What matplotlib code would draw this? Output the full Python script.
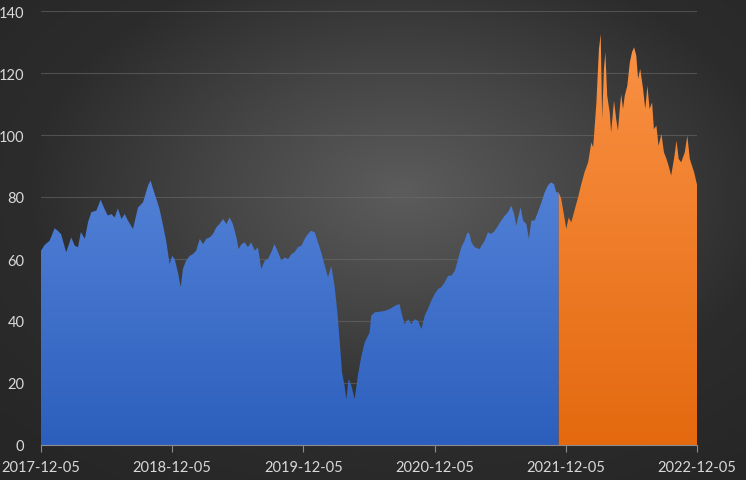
import numpy as np
import pandas as pd
import matplotlib
matplotlib.use("Agg")
import matplotlib.pyplot as plt
import matplotlib.dates as mdates
from matplotlib.colors import LinearSegmentedColormap

# price series (date, value)
dates = [
    "2017-12-05", "2017-12-15", "2017-12-29", "2018-01-12", "2018-01-21", "2018-01-30",
    "2018-02-13", "2018-02-23", "2018-02-27", "2018-03-09", "2018-03-18", "2018-03-26",
    "2018-04-06", "2018-04-15", "2018-04-24", "2018-05-08", "2018-05-20", "2018-05-31",
    "2018-06-09", "2018-06-19", "2018-06-28", "2018-07-07", "2018-07-17", "2018-07-26",
    "2018-08-04", "2018-08-18", "2018-09-01", "2018-09-15", "2018-09-29", "2018-10-06",
    "2018-10-13", "2018-10-22", "2018-10-31", "2018-11-10", "2018-11-19", "2018-11-28",
    "2018-12-05", "2018-12-12", "2018-12-21", "2018-12-29", "2019-01-04", "2019-01-13",
    "2019-01-23", "2019-02-01", "2019-02-10", "2019-02-20", "2019-03-01", "2019-03-10",
    "2019-03-20", "2019-03-29", "2019-04-07", "2019-04-16", "2019-04-26", "2019-05-05",
    "2019-05-14", "2019-05-23", "2019-06-02", "2019-06-08", "2019-06-16", "2019-06-25",
    "2019-07-04", "2019-07-13", "2019-07-23", "2019-08-01", "2019-08-10", "2019-08-20",
    "2019-08-29", "2019-09-07", "2019-09-16", "2019-09-26", "2019-10-05", "2019-10-14",
    "2019-10-24", "2019-11-02", "2019-11-11", "2019-11-20", "2019-11-30", "2019-12-09",
    "2019-12-18", "2019-12-27", "2020-01-06", "2020-01-15", "2020-01-24", "2020-02-03",
    "2020-02-12", "2020-02-21", "2020-03-01", "2020-03-09", "2020-03-15", "2020-03-22",
    "2020-03-29", "2020-04-03", "2020-04-09", "2020-04-17", "2020-04-26", "2020-05-05",
    "2020-05-15", "2020-05-24", "2020-06-07", "2020-06-11", "2020-06-21", "2020-07-05",
    "2020-07-19", "2020-08-02", "2020-08-16", "2020-08-29", "2020-09-03", "2020-09-12",
    "2020-09-22", "2020-10-01", "2020-10-10", "2020-10-19", "2020-10-29", "2020-11-07",
    "2020-11-16", "2020-11-25", "2020-12-05", "2020-12-14", "2020-12-23", "2021-01-02",
    "2021-01-11", "2021-01-20", "2021-01-30", "2021-02-08", "2021-02-17", "2021-02-26",
    "2021-03-06", "2021-03-12", "2021-03-17", "2021-03-26", "2021-04-09", "2021-04-14",
    "2021-04-23", "2021-05-02", "2021-05-11", "2021-05-21", "2021-05-30", "2021-06-08",
    "2021-06-18", "2021-06-27", "2021-07-06", "2021-07-14", "2021-07-20", "2021-07-25",
    "2021-08-01", "2021-08-08", "2021-08-17", "2021-08-24", "2021-08-31", "2021-09-09",
    "2021-09-18", "2021-09-28", "2021-10-07", "2021-10-16", "2021-10-24", "2021-11-02",
    "2021-11-08", "2021-11-15",
    "2021-11-22", "2021-11-30", "2021-12-06", "2021-12-13", "2021-12-20", "2021-12-30",
    "2022-01-08", "2022-01-17", "2022-01-26", "2022-02-05", "2022-02-14", "2022-02-19",
    "2022-02-28", "2022-03-07", "2022-03-12", "2022-03-16", "2022-03-21", "2022-03-25",
    "2022-03-30", "2022-04-06", "2022-04-10", "2022-04-18", "2022-04-24", "2022-04-29",
    "2022-05-04", "2022-05-08", "2022-05-13", "2022-05-18", "2022-05-25", "2022-06-01",
    "2022-06-07", "2022-06-13", "2022-06-19", "2022-06-24", "2022-06-30", "2022-07-08",
    "2022-07-14", "2022-07-20", "2022-07-26", "2022-08-02", "2022-08-07", "2022-08-14",
    "2022-08-20", "2022-08-28", "2022-09-04", "2022-09-11", "2022-09-17", "2022-09-24",
    "2022-10-02", "2022-10-09", "2022-10-15", "2022-10-22", "2022-11-01", "2022-11-08",
    "2022-11-15", "2022-11-21", "2022-11-27", "2022-12-05",
]
values = [
    62.7, 64.5, 65.9, 69.9, 69.1, 68.0,
    62.2, 65.5, 67.0, 64.3, 63.8, 68.7,
    66.5, 71.9, 75.1, 75.6, 79.1, 76.1,
    74.0, 74.5, 73.4, 76.3, 72.9, 74.5,
    72.4, 69.7, 76.6, 78.3, 83.7, 85.3,
    82.6, 79.4, 76.1, 70.7, 65.5, 58.4,
    61.0, 60.0, 55.8, 50.9, 56.8, 59.5,
    61.0, 61.6, 62.7, 66.5, 64.8, 66.5,
    67.0, 68.1, 70.2, 71.3, 72.9, 71.3,
    73.4, 71.3, 67.0, 63.2, 64.8, 65.4,
    63.8, 65.4, 62.7, 63.8, 56.8, 59.5,
    60.0, 62.2, 64.8, 62.2, 59.5, 60.5,
    60.0, 61.6, 62.2, 63.8, 64.3, 66.5,
    68.1, 69.1, 68.6, 65.4, 62.2, 57.8,
    54.1, 57.8, 51.4, 42.8, 34.2, 23.4,
    19.1, 14.8, 21.3, 19.1, 14.8, 22.4,
    28.8, 33.1, 36.4, 41.7, 42.8, 43.0,
    43.3, 43.9, 44.9, 45.5, 42.8, 39.0,
    40.6, 39.0, 40.6, 40.1, 37.4, 41.7,
    43.9, 46.5, 48.7, 50.3, 50.9, 52.5,
    54.6, 54.6, 56.2, 60.0, 63.8, 65.9,
    68.6, 68.1, 65.4, 63.8, 63.2, 64.3,
    65.9, 68.6, 68.1, 69.1, 70.7, 72.4,
    74.0, 75.1, 77.2, 74.5, 70.7, 73.4,
    76.6, 72.4, 71.3, 66.5, 72.4, 72.4,
    75.1, 78.3, 81.5, 83.7, 84.7, 84.2,
    81.5, 81.5,
    79.4, 74.0, 69.7, 73.4, 71.8, 76.1,
    79.9, 84.2, 88.0, 91.2, 97.6, 96.0,
    110.5, 127.7, 132.6, 105.2, 121.3, 126.7,
    112.7, 107.3, 100.8, 111.1, 105.2, 101.4,
    108.4, 113.2, 108.4, 112.7, 115.9, 123.4,
    126.7, 128.3, 125.6, 118.1, 121.3, 114.8,
    108.4, 115.9, 108.4, 110.5, 101.9, 103.0,
    96.5, 100.3, 94.4, 92.3, 90.1, 86.9,
    92.3, 98.2, 92.3, 91.2, 94.4, 99.8,
    92.3, 90.1, 88.0, 84.0,
]
split_date = "2021-11-15"
tick_dates = ["2017-12-05", "2018-12-05", "2019-12-05", "2020-12-05", "2021-12-05", "2022-12-05"]
y_ticks = [0, 20, 40, 60, 80, 100, 120, 140]

x = pd.to_datetime(dates)
y = np.array(values)
split = pd.Timestamp(split_date)
hist = x <= split
recent = x >= split

fig = plt.figure(figsize=(7.46, 4.81), dpi=100)

# radial dark-grey background
bg = fig.add_axes([0, 0, 1, 1], zorder=-10)
gx, gy = np.meshgrid(np.linspace(0, 1, 400), np.linspace(0, 1, 260))
r = np.sqrt(((gx - 0.54) / 0.75) ** 2 + ((gy - 0.6) / 0.75) ** 2)
bg_cmap = LinearSegmentedColormap.from_list("bg", ["#5c5c5c", "#454545", "#2c2c2c", "#262626"])
bg.imshow(np.clip(r, 0, 1), cmap=bg_cmap, vmin=0, vmax=1, aspect="auto",
          extent=[0, 1, 0, 1], origin="lower")
bg.axis("off")

ax = fig.add_axes([41 / 746, 35 / 481, 656 / 746, 434 / 481])
ax.patch.set_alpha(0)

x0, x1 = pd.Timestamp(tick_dates[0]), pd.Timestamp(tick_dates[-1])


def gradient_area(xs, ys, top, bottom):
    poly = ax.fill_between(xs, 0, ys, color="none", lw=0)
    cmap = LinearSegmentedColormap.from_list("g", [bottom, top])
    grad = np.linspace(0, 1, 256).reshape(-1, 1)
    im = ax.imshow(grad, cmap=cmap, aspect="auto", origin="lower",
                   extent=[mdates.date2num(x0), mdates.date2num(x1), 0, 140], zorder=2)
    im.set_clip_path(poly.get_paths()[0], transform=ax.transData)


gradient_area(x[hist], y[hist], "#6a96e6", "#2c5fbd")
gradient_area(x[recent], y[recent], "#fb9448", "#e4690f")
ax.set_xlim(x0, x1)
ax.set_ylim(0, 140)

ax.set_yticks(y_ticks)
ax.grid(axis="y", color="#6e6e6e", lw=0.8, alpha=0.55, zorder=0)
ax.set_axisbelow(True)

ax.set_xticks(pd.to_datetime(tick_dates))
ax.xaxis.set_major_formatter(mdates.DateFormatter("%Y-%m-%d"))

for s in ["top", "right", "left"]:
    ax.spines[s].set_visible(False)
ax.spines["bottom"].set_color("#8c8c8c")
ax.spines["bottom"].set_zorder(5)
ax.tick_params(axis="x", colors="#8c8c8c", length=5, width=0.8, pad=6, labelcolor="#d9d9d9",
               labelsize=10.5)
ax.tick_params(axis="y", length=0, pad=12, labelcolor="#d9d9d9", labelsize=10.5)
for lab in ax.get_xticklabels() + ax.get_yticklabels():
    lab.set_fontfamily("Lato")

fig.savefig("out.png", dpi=100)
